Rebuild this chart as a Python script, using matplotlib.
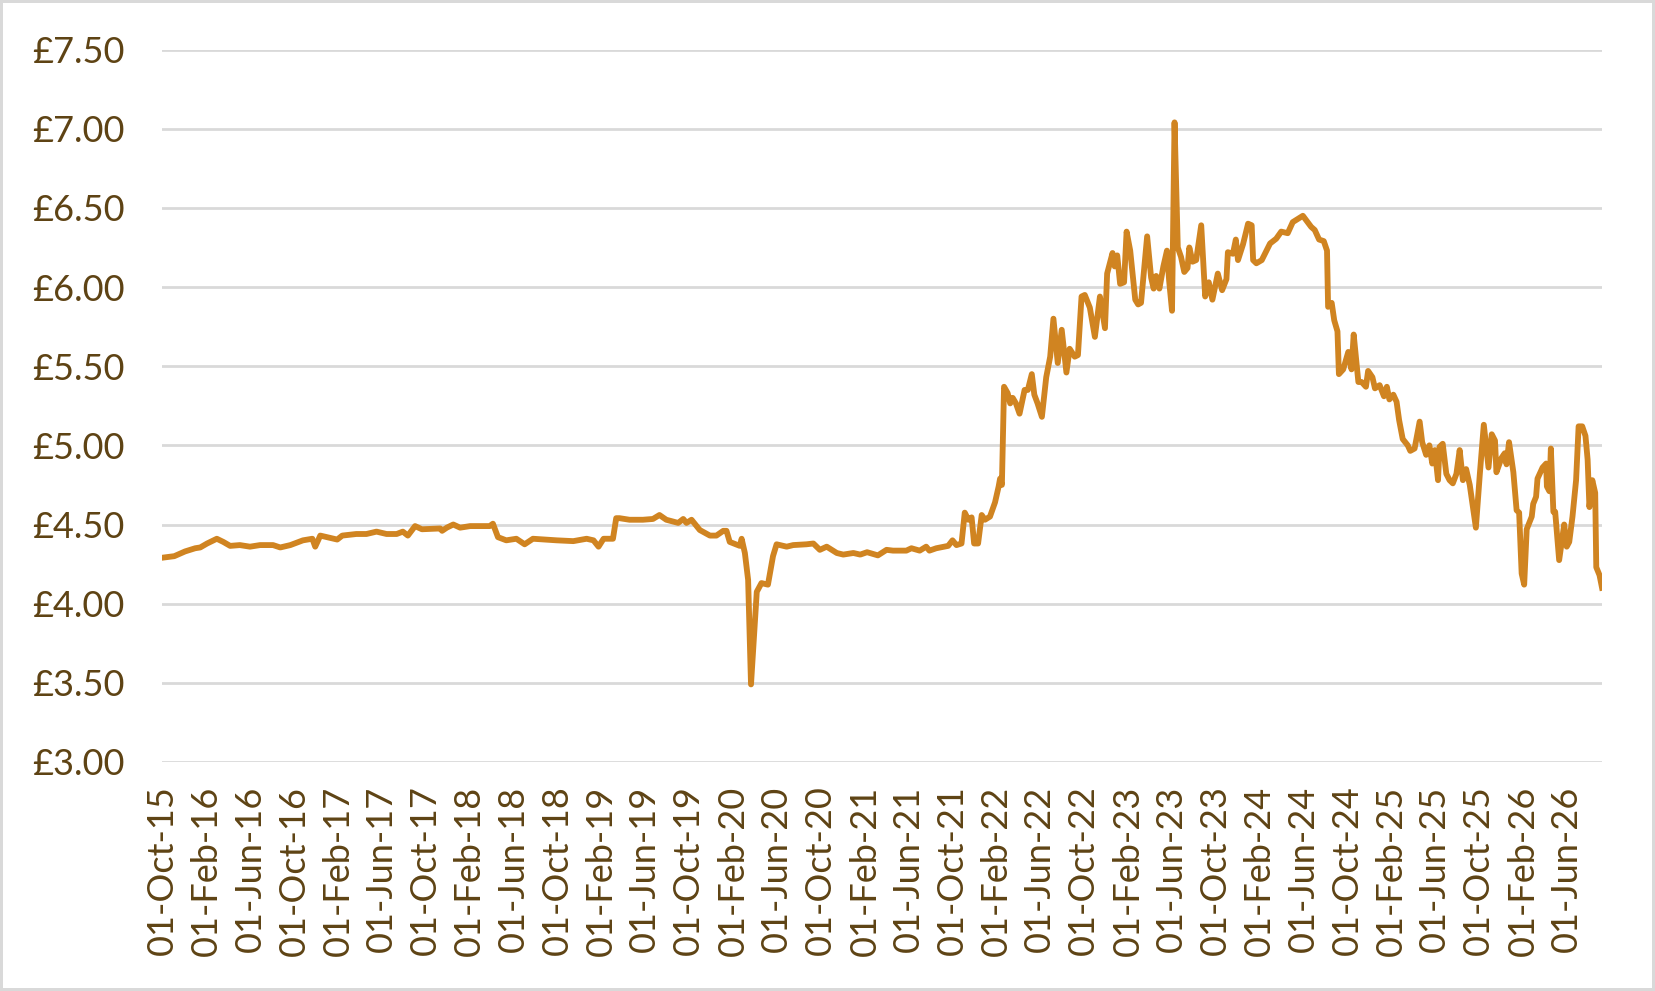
import pandas as pd
import matplotlib
matplotlib.use("Agg")
import matplotlib.pyplot as plt
import matplotlib.dates as mdates
from matplotlib.ticker import FuncFormatter, MultipleLocator

plt.rcParams['font.family'] = ['Lato', 'DejaVu Sans']

# weekly price readings
dates = [
    '2015-10-01', '2015-11-04', '2015-12-04', '2016-01-01', '2016-01-15', '2016-02-03',
    '2016-03-01', '2016-03-19', '2016-04-07', '2016-05-04', '2016-06-01', '2016-06-29',
    '2016-08-04', '2016-08-24', '2016-09-21', '2016-10-26', '2016-11-21', '2016-11-29',
    '2016-12-13', '2017-01-29', '2017-02-12', '2017-03-23', '2017-04-20', '2017-05-18',
    '2017-06-15', '2017-07-13', '2017-07-30', '2017-08-13', '2017-09-02', '2017-09-21',
    '2017-11-11', '2017-11-16', '2017-11-29', '2017-12-17', '2018-01-05', '2018-02-02',
    '2018-03-28', '2018-04-06', '2018-04-20', '2018-05-13', '2018-06-10', '2018-07-03',
    '2018-07-26', '2018-09-30', '2018-11-15', '2018-12-22', '2019-01-10', '2019-01-24',
    '2019-02-07', '2019-03-05', '2019-03-14', '2019-03-23', '2019-04-20', '2019-05-27',
    '2019-06-24', '2019-07-12', '2019-07-31', '2019-09-02', '2019-09-16', '2019-09-25',
    '2019-10-09', '2019-11-01', '2019-11-29', '2019-12-17', '2020-01-05', '2020-01-14',
    '2020-01-23', '2020-02-20', '2020-02-25', '2020-03-05', '2020-03-14', '2020-03-22',
    '2020-04-07', '2020-04-20', '2020-05-08', '2020-05-22', '2020-06-01', '2020-06-29',
    '2020-07-17', '2020-08-23', '2020-09-11', '2020-09-29', '2020-10-18', '2020-11-15',
    '2020-12-03', '2020-12-31', '2021-01-19', '2021-02-07', '2021-03-09', '2021-04-02',
    '2021-04-20', '2021-05-27', '2021-06-10', '2021-07-03', '2021-07-21', '2021-07-30',
    '2021-08-18', '2021-09-20', '2021-10-02', '2021-10-13', '2021-10-27', '2021-11-05',
    '2021-11-15', '2021-11-24', '2021-12-01', '2021-12-12', '2021-12-22', '2021-12-31',
    '2022-01-14', '2022-01-28', '2022-02-07', '2022-02-11', '2022-02-16', '2022-02-22',
    '2022-03-04', '2022-03-11', '2022-03-18', '2022-03-27', '2022-04-06', '2022-04-20',
    '2022-04-29', '2022-05-10', '2022-05-17', '2022-05-26', '2022-06-07', '2022-06-19',
    '2022-06-30', '2022-07-09', '2022-07-21', '2022-08-01', '2022-08-14', '2022-08-23',
    '2022-09-06', '2022-09-15', '2022-09-25', '2022-10-04', '2022-10-18', '2022-11-01',
    '2022-11-15', '2022-11-29', '2022-12-05', '2022-12-20', '2022-12-26', '2023-01-02',
    '2023-01-10', '2023-01-21', '2023-01-28', '2023-02-07', '2023-02-21', '2023-03-01',
    '2023-03-09', '2023-03-26', '2023-04-06', '2023-04-13', '2023-04-20', '2023-04-29',
    '2023-05-10', '2023-05-20', '2023-05-26', '2023-06-03', '2023-06-10', '2023-06-19',
    '2023-06-28', '2023-07-07', '2023-07-16', '2023-07-21', '2023-07-30', '2023-08-09',
    '2023-08-23', '2023-09-03', '2023-09-13', '2023-09-23', '2023-10-08', '2023-10-20',
    '2023-11-01', '2023-11-05', '2023-11-19', '2023-11-27', '2023-12-03', '2023-12-17',
    '2023-12-31', '2024-01-10', '2024-01-14', '2024-01-23', '2024-02-07', '2024-03-01',
    '2024-03-18', '2024-04-01', '2024-04-19', '2024-05-03', '2024-05-31', '2024-06-23',
    '2024-07-03', '2024-07-15', '2024-07-28', '2024-08-06', '2024-08-09', '2024-08-19',
    '2024-08-26', '2024-09-04', '2024-09-08', '2024-09-20', '2024-10-04', '2024-10-13',
    '2024-10-19', '2024-11-01', '2024-11-10', '2024-11-22', '2024-11-28', '2024-12-10',
    '2024-12-17', '2024-12-30', '2025-01-11', '2025-01-19', '2025-01-26', '2025-02-06',
    '2025-02-15', '2025-02-22', '2025-03-04', '2025-03-18', '2025-03-25', '2025-04-06',
    '2025-04-20', '2025-04-27', '2025-05-08', '2025-05-17', '2025-05-25', '2025-06-01',
    '2025-06-10', '2025-06-14', '2025-06-23', '2025-07-03', '2025-07-12', '2025-07-21',
    '2025-07-31', '2025-08-09', '2025-08-18', '2025-08-27', '2025-09-06', '2025-09-23',
    '2025-10-04', '2025-10-15', '2025-10-28', '2025-11-06', '2025-11-15', '2025-11-19',
    '2025-12-03', '2025-12-12', '2025-12-17', '2025-12-24', '2026-01-05', '2026-01-14',
    '2026-01-21', '2026-01-28', '2026-02-04', '2026-02-11', '2026-02-25', '2026-03-01',
    '2026-03-09', '2026-03-13', '2026-03-27', '2026-04-06', '2026-04-08', '2026-04-15',
    '2026-04-19', '2026-04-26', '2026-05-01', '2026-05-12', '2026-05-26', '2026-06-02',
    '2026-06-09', '2026-06-18', '2026-06-28', '2026-07-05', '2026-07-15', '2026-07-24',
    '2026-07-30', '2026-08-04', '2026-08-12', '2026-08-20', '2026-08-23', '2026-09-01',
    '2026-09-08',
]

price = [
    4.29, 4.30, 4.33, 4.35, 4.355, 4.38,
    4.41, 4.39, 4.365, 4.37, 4.36, 4.37,
    4.37, 4.355, 4.37, 4.40, 4.41, 4.36,
    4.43, 4.405, 4.43, 4.44, 4.44, 4.455,
    4.44, 4.44, 4.455, 4.43, 4.49, 4.47,
    4.475, 4.46, 4.48, 4.50, 4.48, 4.49,
    4.49, 4.505, 4.42, 4.40, 4.41, 4.375,
    4.41, 4.40, 4.395, 4.41, 4.40, 4.36,
    4.41, 4.41, 4.54, 4.54, 4.53, 4.53,
    4.535, 4.56, 4.53, 4.51, 4.535, 4.51,
    4.53, 4.465, 4.43, 4.43, 4.46, 4.46,
    4.39, 4.365, 4.41, 4.32, 4.15, 3.49,
    4.075, 4.13, 4.12, 4.30, 4.375, 4.36,
    4.37, 4.375, 4.38, 4.34, 4.36, 4.32,
    4.31, 4.32, 4.31, 4.325, 4.305, 4.34,
    4.335, 4.335, 4.35, 4.335, 4.36, 4.335,
    4.35, 4.365, 4.40, 4.37, 4.38, 4.575,
    4.53, 4.545, 4.38, 4.38, 4.56, 4.53,
    4.55, 4.64, 4.74, 4.79, 4.75, 5.37,
    5.33, 5.265, 5.30, 5.265, 5.20, 5.35,
    5.35, 5.45, 5.32, 5.265, 5.18, 5.43,
    5.56, 5.80, 5.52, 5.73, 5.46, 5.61,
    5.56, 5.57, 5.94, 5.95, 5.87, 5.685,
    5.94, 5.74, 6.085, 6.215, 6.13, 6.20,
    6.02, 6.03, 6.35, 6.23, 5.92, 5.89,
    5.90, 6.32, 6.06, 5.99, 6.07, 5.99,
    6.13, 6.23, 6.04, 5.85, 7.04, 6.25,
    6.19, 6.095, 6.12, 6.25, 6.16, 6.17,
    6.39, 5.94, 6.03, 5.92, 6.085, 5.98,
    6.05, 6.22, 6.21, 6.30, 6.17, 6.27,
    6.40, 6.39, 6.17, 6.15, 6.17, 6.275,
    6.305, 6.35, 6.34, 6.41, 6.45, 6.38,
    6.36, 6.30, 6.29, 6.23, 5.875, 5.90,
    5.79, 5.72, 5.45, 5.48, 5.59, 5.48,
    5.70, 5.40, 5.40, 5.37, 5.47, 5.43,
    5.36, 5.38, 5.31, 5.37, 5.29, 5.32,
    5.275, 5.16, 5.04, 5.00, 4.965, 4.98,
    5.15, 5.02, 4.94, 5.00, 4.885, 4.97,
    4.78, 4.99, 5.01, 4.82, 4.78, 4.76,
    4.82, 4.97, 4.78, 4.85, 4.75, 4.48,
    4.82, 5.13, 4.86, 5.07, 5.03, 4.83,
    4.92, 4.95, 4.88, 5.02, 4.83, 4.59,
    4.575, 4.19, 4.12, 4.47, 4.55, 4.63,
    4.675, 4.79, 4.86, 4.885, 4.74, 4.71,
    4.98, 4.58, 4.58, 4.275, 4.50, 4.36,
    4.39, 4.55, 4.78, 5.12, 5.12, 5.06,
    4.91, 4.61, 4.78, 4.70, 4.23, 4.18,
    4.10,
]

tick_dates = pd.date_range('2015-10-01', '2026-06-01', freq='4MS')

line_col = '#D08421'
text_col = '#5E4314'
grid_col = '#D9D9D9'

x = pd.to_datetime(dates)

fig = plt.figure(figsize=(16.55, 9.91), dpi=100, linewidth=3, edgecolor=grid_col)
ax = fig.add_axes([0.0979, 0.2311, 0.8701, 0.7189])

ax.plot(x, price, color=line_col, linewidth=4.2, solid_joinstyle='round', zorder=3)

ax.set_ylim(3.0, 7.5)
ax.set_xlim(pd.Timestamp('2015-10-01'), x[-1])
ax.yaxis.set_major_locator(MultipleLocator(0.5))
ax.yaxis.set_major_formatter(FuncFormatter(lambda v, p: f'£{v:.2f}'))
ax.set_xticks(tick_dates)
ax.xaxis.set_major_formatter(mdates.DateFormatter('%d-%b-%y'))

ax.grid(axis='y', color=grid_col, linewidth=2, zorder=0)
ax.set_axisbelow(True)
for s in ax.spines.values():
    s.set_visible(False)

ax.tick_params(axis='y', length=0, pad=27, labelsize=26, labelcolor=text_col)
ax.tick_params(axis='x', length=0, pad=17, labelsize=26, labelcolor=text_col, rotation=90)

fig.savefig('out.png', dpi=100)
